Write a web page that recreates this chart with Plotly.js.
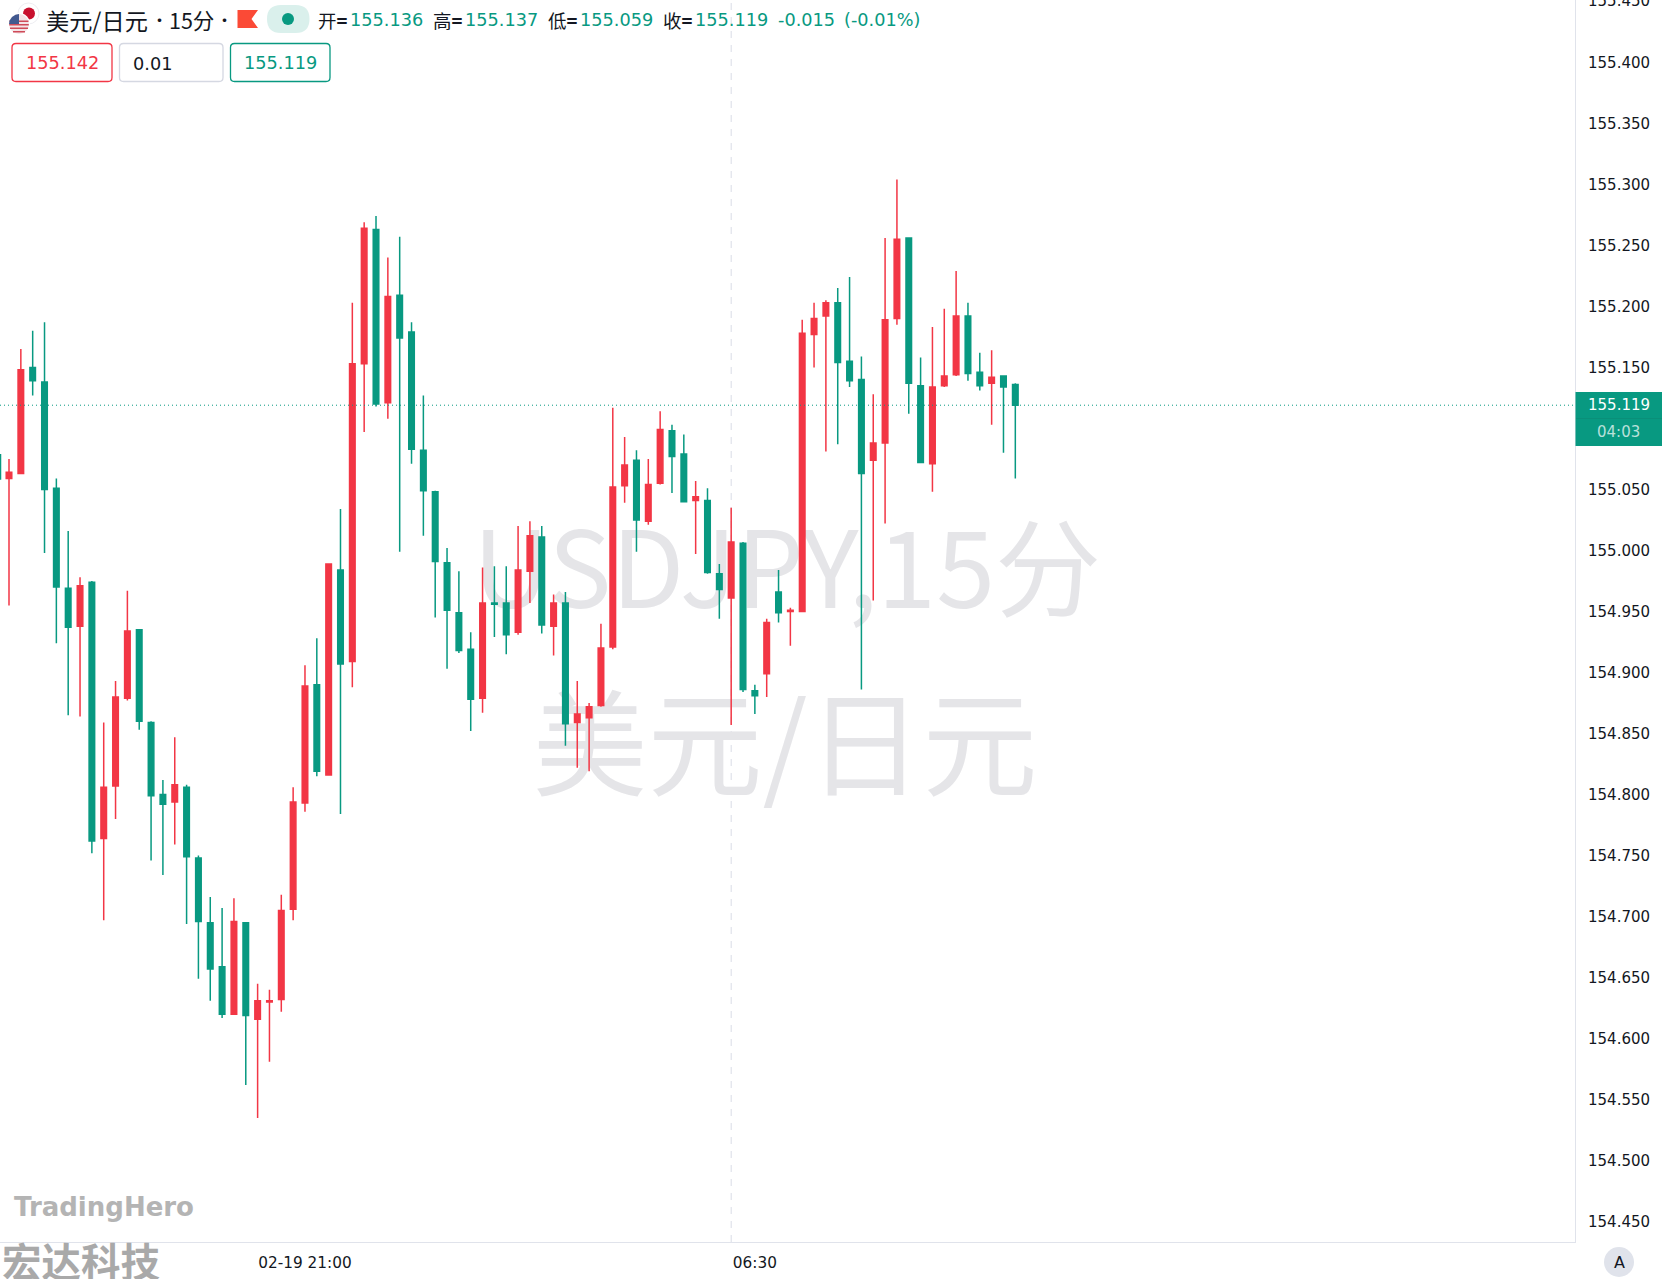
<!DOCTYPE html>
<html>
<head>
<meta charset="utf-8">
<script src="https://cdn.plot.ly/plotly-3.0.1.min.js"></script>
<style>html,body{margin:0;padding:0;background:#fff}#chart{width:1665px;height:1279px}</style>
</head>
<body>
<div id="chart"></div>
<script>
const opens = [155.059,155.063,155.150,155.138,155.051,154.969,154.938,154.974,154.764,154.807,154.879,154.935,154.859,154.800,154.794,154.806,154.748,154.695,154.659,154.620,154.695,154.616,154.630,154.632,154.706,154.793,154.890,154.816,154.984,154.909,155.153,155.263,155.121,155.209,155.179,155.082,155.048,154.990,154.949,154.919,154.879,154.957,154.957,154.933,154.983,155.011,154.938,154.957,154.859,154.863,154.873,154.921,155.053,155.074,155.024,155.055,155.098,155.079,155.041,155.041,154.981,154.961,155.006,154.885,154.899,154.966,154.950,154.950,155.177,155.192,155.203,155.155,155.140,155.074,155.088,155.190,155.256,155.135,155.071,155.135,155.144,155.192,155.146,155.137,155.143,155.136];
const highs = [155.075,155.165,155.180,155.187,155.059,155.016,154.978,154.975,154.859,154.893,154.967,154.935,154.860,154.812,154.847,154.808,154.750,154.716,154.707,154.715,154.695,154.645,154.640,154.718,154.806,154.906,154.928,154.989,155.034,155.203,155.269,155.274,155.240,155.257,155.187,155.127,155.049,155.002,154.983,154.933,154.986,154.987,154.987,155.020,155.024,155.020,154.964,154.966,154.893,154.875,154.940,155.117,155.093,155.082,155.075,155.114,155.103,155.095,155.057,155.051,154.989,155.035,155.007,154.890,154.944,154.984,154.953,155.189,155.203,155.205,155.215,155.224,155.159,155.128,155.256,155.304,155.256,155.158,155.183,155.198,155.229,155.203,155.162,155.164,155.143,155.137];
const lows = [154.955,155.063,155.127,154.998,154.924,154.865,154.864,154.752,154.697,154.780,154.877,154.853,154.746,154.734,154.759,154.694,154.649,154.631,154.617,154.620,154.562,154.535,154.581,154.622,154.697,154.786,154.815,154.816,154.784,154.888,155.097,155.118,155.108,154.999,155.071,155.012,154.945,154.903,154.916,154.852,154.867,154.929,154.915,154.931,154.957,154.932,154.914,154.840,154.822,154.819,154.872,154.919,155.039,154.999,155.021,155.054,155.047,155.040,154.997,154.981,154.944,154.857,154.884,154.866,154.880,154.941,154.922,154.950,155.150,155.081,155.087,155.134,154.886,154.959,155.022,155.185,155.112,155.072,155.048,155.134,155.143,155.139,155.131,155.103,155.080,155.059];
const closes = [155.064,155.148,155.139,155.050,154.970,154.937,154.971,154.762,154.806,154.880,154.934,154.860,154.799,154.792,154.808,154.749,154.696,154.657,154.620,154.696,154.619,154.631,154.631,154.705,154.794,154.889,154.819,154.989,154.907,155.153,155.264,155.120,155.208,155.174,155.083,155.049,154.991,154.951,154.918,154.878,154.957,154.956,154.931,154.984,155.012,154.939,154.957,154.858,154.866,154.872,154.920,155.052,155.070,155.025,155.054,155.099,155.077,155.040,155.044,154.982,154.968,155.007,154.886,154.881,154.941,154.949,154.951,155.178,155.190,155.203,155.154,155.139,155.063,155.088,155.189,155.255,155.137,155.072,155.134,155.143,155.192,155.145,155.135,155.142,155.134,155.119];
const edgeWickHigh = 155.079, edgeWickLow = 155.058;
const xTickIndex = [25, 63];
const xTickText = ['02-19 21:00', '06:30'];
const yTickValues = [154.45,154.5,154.55,154.6,154.65,154.7,154.75,154.8,154.85,154.9,154.95,155,155.05,155.15,155.2,155.25,155.3,155.35,155.4,155.45];
const lastPrice = 155.119;
const crosshairIndex = 61;

const W = 1665, H = 1279, PR = 1575, PB = 1242;
const UP = '#F23645', DOWN = '#089981', BORDER = '#E0E3EB', INK = '#131722';
const CJK = '"Noto Sans CJK SC", sans-serif';
const NUM = '"DejaVu Sans", sans-serif';
const STEP = 11.839, X0 = 9;
const px = x => x / PR, py = y => 1 - y / PB;
const idx = x => (x - X0) / STEP;
const xRange = [idx(0), idx(PR)];
const yRange = [154.4334, 155.451];
const priceAt = y => lastPrice - (y - 405.2) / 1220.6;
const xs = opens.map((_, i) => i);

function rect(x0, y0, x1, y1, fill, line, r) {
  r = r || 0;
  const P = (x, y) => px(x) + ',' + py(y);
  const path = 'M' + P(x0 + r, y0) + ' L' + P(x1 - r, y0) + ' Q' + P(x1, y0) + ' ' + P(x1, y0 + r) +
    ' L' + P(x1, y1 - r) + ' Q' + P(x1, y1) + ' ' + P(x1 - r, y1) + ' L' + P(x0 + r, y1) +
    ' Q' + P(x0, y1) + ' ' + P(x0, y1 - r) + ' L' + P(x0, y0 + r) + ' Q' + P(x0, y0) + ' ' + P(x0 + r, y0) + ' Z';
  return {type: 'path', xref: 'paper', yref: 'paper', layer: 'above', path, fillcolor: fill,
    line: {color: line || fill, width: line ? 1.3 : 0}};
}
function poly(pts, fill) {
  return {type: 'path', xref: 'paper', yref: 'paper', layer: 'above',
    path: 'M' + pts.map(p => px(p[0]) + ',' + py(p[1])).join(' L') + ' Z', fillcolor: fill, line: {width: 0}};
}
function circle(cx, cy, r, fill, line) {
  return {type: 'circle', xref: 'paper', yref: 'paper', layer: 'above',
    x0: px(cx - r), x1: px(cx + r), y0: py(cy + r), y1: py(cy - r), fillcolor: fill,
    line: {color: line || fill, width: line ? 1 : 0}};
}
function label(x, y, text, size, color, anchor, family) {
  return {xref: 'paper', yref: 'paper', x: px(x), y: py(y), text, showarrow: false, xanchor: anchor || 'left',
    yanchor: 'middle', borderpad: 0, font: {size, color, family: family || NUM}};
}

const shapes = [
  {type: 'line', xref: 'paper', yref: 'y2', x0: 0, x1: 1, y0: lastPrice, y1: lastPrice, layer: 'above',
    line: {color: DOWN, width: 1, dash: '1px,3px'}},
  {type: 'line', xref: 'x', yref: 'paper', x0: crosshairIndex, x1: crosshairIndex, y0: 0, y1: 1, layer: 'below',
    line: {color: '#D9DCE6', width: 1, dash: '7px,7px'}},
  rect(1575.5, 392, 1662, 446, DOWN),
  {type: 'line', xref: 'paper', yref: 'paper', layer: 'above', x0: px(1576), x1: px(1662), y0: py(418.5), y1: py(418.5),
    line: {color: '#0A8F79', width: 1}},
  rect(12, 43.5, 112, 81.5, '#FFFFFF', UP, 4),
  rect(119.5, 43.5, 223, 81.5, '#FFFFFF', '#D5D8E2', 4),
  rect(230.5, 43.5, 330, 81.5, '#FFFFFF', DOWN, 4),
  circle(1619, 1262, 15, BORDER),
  poly([[237.5, 10], [258, 10], [251.5, 19], [258, 28], [237.5, 28]], '#FB4A36'),
  rect(267, 5, 309.5, 33, '#DAF0EC', null, 14),
  circle(288, 19, 6, DOWN),
  circle(28.5, 13.5, 10.5, '#FFFFFF', '#EEEEF2'),
  circle(29, 13.5, 6, '#C8102E'),
  circle(19, 24, 11, '#FFFFFF'),
  circle(19, 24, 10, '#F3E3E6'),
  rect(9.5, 20.5, 28.5, 22, '#CF4A58'),
  rect(9.2, 24, 28.8, 25.5, '#CF4A58'),
  rect(10, 27.5, 28, 29, '#CF4A58'),
  rect(13, 31, 25, 32.5, '#CF4A58'),
  poly([[9, 24], [9.6, 20.5], [12, 17], [15.5, 14.7], [19, 14], [19, 24]], '#41598F'),
];

const annotations = [
  label(44.5, 20, '美元/日元', 23.2, INK, 'left', CJK),
  label(159, 20, '•', 17, INK, 'center', CJK),
  label(167.5, 20, '15分', 21.5, INK, 'left', CJK),
  label(224, 20, '•', 17, INK, 'center', CJK),
  label(317, 20, '开<b>=</b>', 18.5, INK, 'left', CJK),
  label(349, 20, '155.136', 17.7, DOWN),
  label(432, 20, '高<b>=</b>', 18.5, INK, 'left', CJK),
  label(464, 20, '155.137', 17.7, DOWN),
  label(547, 20, '低<b>=</b>', 18.5, INK, 'left', CJK),
  label(579, 20, '155.059', 17.7, DOWN),
  label(662, 20, '收<b>=</b>', 18.5, INK, 'left', CJK),
  label(694, 20, '155.119', 17.7, DOWN),
  label(777, 20, '-0.015', 17.7, DOWN),
  label(843, 20, '(-0.01%)', 17.7, DOWN),
  label(62, 63, '155.142', 17.7, UP, 'center'),
  label(132, 64, '0.01', 17.7, INK),
  label(280, 63, '155.119', 17.7, DOWN, 'center'),
  label(1618.5, 405, '155.119', 15, '#FFFFFF', 'center'),
  label(1618.5, 432, '04:03', 15, 'rgba(255,255,255,0.72)', 'center'),
  label(1619, 1262.5, 'A', 16, INK, 'center'),
  label(13, 1207, '<b>TradingHero</b>', 26, '#B4B4B4', 'left'),
  label(1, 1259, '<b>宏达科技</b>', 39.5, '#A9A9A9', 'left', CJK)
];

const traces = [
  {type: 'scatter', mode: 'text', xaxis: 'x', yaxis: 'y', hoverinfo: 'skip', showlegend: false,
    x: [idx(787), idx(785)], y: [priceAt(581), priceAt(758)], text: ['USDJPY,15分', '美元/日元'],
    textposition: 'middle center',
    textfont: {family: CJK, size: [106, 115], color: '#E5E5E8'}},
  {type: 'candlestick', xaxis: 'x', yaxis: 'y2', x: xs, open: opens, high: highs, low: lows, close: closes,
    whiskerwidth: 0, showlegend: false,
    increasing: {line: {color: UP, width: 1.5}, fillcolor: UP},
    decreasing: {line: {color: DOWN, width: 1.5}, fillcolor: DOWN}},
  {type: 'scatter', mode: 'lines', xaxis: 'x', yaxis: 'y2', x: [idx(0.5), idx(0.5)], y: [edgeWickHigh, edgeWickLow],
    line: {color: DOWN, width: 1.5}, hoverinfo: 'skip', showlegend: false}
];

const layout = {
  width: W, height: H, margin: {l: 0, r: W - PR, t: 0, b: H - PB},
  paper_bgcolor: '#FFFFFF', plot_bgcolor: '#FFFFFF', boxgap: 0.33, showlegend: false, dragmode: false,
  xaxis: {type: 'linear', range: xRange, rangeslider: {visible: false}, showgrid: false, zeroline: false,
    showline: true, linecolor: BORDER, linewidth: 1, tickmode: 'array', tickvals: xTickIndex, ticktext: xTickText,
    ticks: '', ticklabelstandoff: 7, tickfont: {family: NUM, size: 15.3, color: INK}},
  yaxis: {range: yRange, visible: false, showgrid: false, zeroline: false},
  yaxis2: {range: yRange, overlaying: 'y', side: 'right', anchor: 'x', showgrid: false, zeroline: false,
    showline: true, linecolor: BORDER, linewidth: 1, tickmode: 'array', tickvals: yTickValues, tickformat: '.3f',
    ticks: '', ticklabelstandoff: 9, ticklabeloverflow: 'allow', tickfont: {family: NUM, size: 15, color: INK}},
  shapes, annotations
};
Plotly.newPlot('chart', traces, layout, {displayModeBar: false, staticPlot: true});
</script>
</body>
</html>
